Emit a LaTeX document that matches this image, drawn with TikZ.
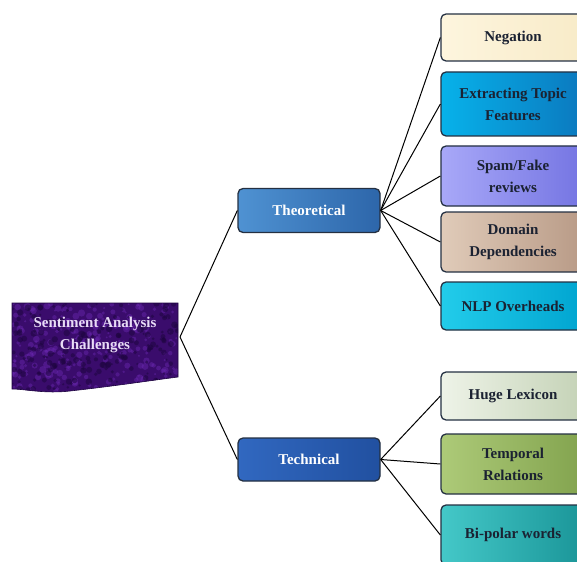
\documentclass[tikz,border=0pt]{standalone}
\usepackage{fontspec}
\setmainfont{Liberation Serif}
\definecolor{edge}{HTML}{243042}
\definecolor{ink}{HTML}{1B2232}
\definecolor{rootbase}{HTML}{3A0C6C}
\definecolor{rootlight}{HTML}{6A28B0}
\definecolor{rootdark}{HTML}{1E0540}
\definecolor{roottext}{HTML}{E8DCF6}
\definecolor{theoA}{HTML}{4F92D2}\definecolor{theoB}{HTML}{2D66AA}
\definecolor{techA}{HTML}{3168C0}\definecolor{techB}{HTML}{2150A0}
\definecolor{negA}{HTML}{FDF5DE}\definecolor{negB}{HTML}{F8EBC8}
\definecolor{topA}{HTML}{07B2EA}\definecolor{topB}{HTML}{0B78BE}
\definecolor{spamA}{HTML}{A8A8F8}\definecolor{spamB}{HTML}{7474E2}
\definecolor{domA}{HTML}{E0CBB9}\definecolor{domB}{HTML}{B89A86}
\definecolor{nlpA}{HTML}{22CCEA}\definecolor{nlpB}{HTML}{00A4D0}
\definecolor{lexA}{HTML}{EEF3E8}\definecolor{lexB}{HTML}{C4D2B6}
\definecolor{tmpA}{HTML}{ADCA78}\definecolor{tmpB}{HTML}{82A34E}
\definecolor{bipA}{HTML}{44C8C8}\definecolor{bipB}{HTML}{1A9598}
\begin{document}
\begin{tikzpicture}[x=1pt,y=-1pt,
  every node/.style={font=\fontsize{15}{22}\selectfont\bfseries, align=center},
  branch/.style n args={2}{rectangle, rounded corners=5pt, draw=edge, line width=1.3pt,
    left color=#1, right color=#2, text=white, minimum width=142pt, minimum height=44pt},
  leaf/.style n args={2}{rectangle, rounded corners=5pt, draw=edge, line width=1.3pt,
    left color=#1, right color=#2, text=ink, minimum width=144pt},
  link/.style={draw=black, line width=1pt}]
\useasboundingbox (0,0) rectangle (577,561);
\clip (0,0) rectangle (577,561);

% root document shape with a mottled purple fill
\def\docpath{(12,303) -- (178,303) -- (178,377)
  .. controls (140,382) and (115,386) .. (70,391)
  .. controls (45,394) and (25,389) .. (12,389) -- cycle}
\begin{scope}
  \clip \docpath;
  \fill[rootbase] (10,300) rectangle (180,396);
  \pgfmathsetseed{11}
  \foreach \i in {1,...,260}{
    \fill[rootlight, opacity=0.45] ({12+166*rnd},{303+92*rnd}) circle ({1+2.6*rnd});
  }
  \foreach \i in {1,...,220}{
    \fill[rootdark, opacity=0.55] ({12+166*rnd},{303+92*rnd}) circle ({1+2.4*rnd});
  }
\end{scope}
\draw[rootdark, line width=0.6pt] \docpath;
\node[text=roottext] (root) at (95,335) {Sentiment Analysis\\Challenges};
\coordinate (rootout) at (180,337);

% second level
\node[branch={theoA}{theoB}] (theo) at (309,210.5) {Theoretical};
\node[branch={techA}{techB}, minimum height=43pt] (tech) at (309,459.5) {Technical};

% theoretical challenges
\node[leaf={negA}{negB}, minimum height=47pt] (neg) at (513,37.5) {Negation};
\node[leaf={topA}{topB}, minimum height=64pt] (topic) at (513,104) {Extracting Topic\\Features};
\node[leaf={spamA}{spamB}, minimum height=60pt] (spam) at (513,176) {Spam/Fake\\reviews};
\node[leaf={domA}{domB}, minimum height=60pt] (domain) at (513,242) {Domain\\Dependencies};
\node[leaf={nlpA}{nlpB}, minimum height=48pt] (nlp) at (513,306) {NLP Overheads};

% technical challenges
\node[leaf={lexA}{lexB}, minimum height=48pt] (lex) at (513,396) {Huge Lexicon};
\node[leaf={tmpA}{tmpB}, minimum height=60pt] (temp) at (513,464) {Temporal\\Relations};
\node[leaf={bipA}{bipB}, minimum height=60pt] (bip) at (513,535) {Bi-polar words};

% connectors
\draw[link] (rootout) -- (theo.west);
\draw[link] (rootout) -- (tech.west);
\foreach \t in {neg,topic,spam,domain,nlp}{\draw[link] (theo.east) -- (\t.west);}
\foreach \t in {lex,temp,bip}{\draw[link] (tech.east) -- (\t.west);}
\end{tikzpicture}
\end{document}
